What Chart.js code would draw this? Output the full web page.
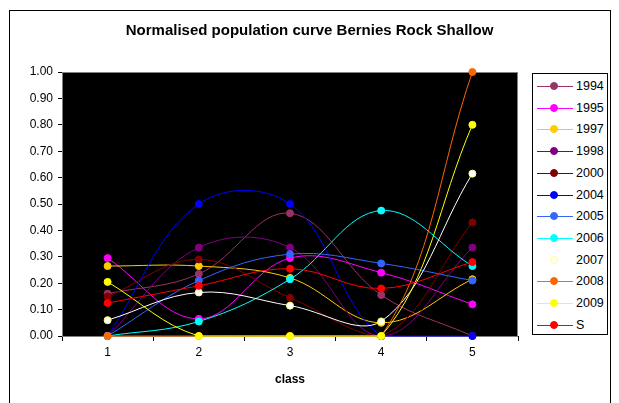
<!DOCTYPE html>
<html>
<head>
<meta charset="utf-8">
<script src="https://cdn.jsdelivr.net/npm/chart.js@4.4.1/dist/chart.umd.min.js"></script>
<style>
  body { margin: 0; background: #fff; font-family: "Liberation Sans", Arial, sans-serif; }
  #wrap { position: relative; width: 619px; height: 403px; }
  #frame { position: absolute; left: 9px; top: 10px; width: 600px; height: 400px;
           border: 1px solid #000; border-bottom: none; pointer-events: none; }
  #legend { position: absolute; left: 532px; top: 73px; width: 74px; height: 260px;
            border: 1px solid #000; background: #fff; }
  .row { position: absolute; left: 0; height: 14px; width: 74px; }
  .row .ln { position: absolute; left: 4px; top: 7px; width: 36px; height: 1px; }
  .row .dot { position: absolute; left: 17px; top: 3px; width: 8px; height: 8px; border-radius: 50%;
              box-sizing: border-box; }
  .row .tx { position: absolute; left: 43px; top: 0; font-size: 12.5px; line-height: 14px; color: #000; }
</style>
</head>
<body>
<div id="wrap">
  <canvas id="myChart" width="619" height="403"></canvas>
  <div id="legend"></div>
  <div id="frame"></div>
</div>
<script>
"use strict";

// データ
const classes = ["1", "2", "3", "4", "5"];
const seriesNames = ["1994", "1995", "1997", "1998", "2000", "2004", "2005", "2006", "2007", "2008", "2009", "S"];

const s1994 = [0.16, 0.235, 0.465, 0.155, 0.00];
const s1995 = [0.295, 0.065, 0.295, 0.24, 0.12];
const s1997 = [0.265, 0.265, 0.22, 0.05, 0.215];
const s1998 = [0.00, 0.335, 0.335, 0.00, 0.335];
const s2000 = [0.15, 0.29, 0.145, 0.00, 0.43];
const s2004 = [0.00, 0.50, 0.50, 0.00, 0.00];
const s2005 = [0.00, 0.21, 0.31, 0.275, 0.21];
const s2006 = [0.00, 0.055, 0.215, 0.475, 0.265];
const s2007 = [0.06, 0.165, 0.115, 0.055, 0.615];
const s2008 = [0.00, 0.00, 0.00, 0.00, 1.00];
const s2009 = [0.205, 0.00, 0.00, 0.00, 0.80];
const sS    = [0.125, 0.19, 0.255, 0.18, 0.28];

const seriesValues = [s1994, s1995, s1997, s1998, s2000, s2004, s2005, s2006, s2007, s2008, s2009, sS];

// 色
const lineColors = ["#993366", "#FF00FF", "#FFCC00", "#800080", "#800000", "#0000FF",
                    "#3366FF", "#00FFFF", "#FFFFFF", "#FF6600", "#FFFF00", "#FF0000"];
const markerColors = ["#993366", "#FF00FF", "#FFCC00", "#800080", "#800000", "#0000FF",
                      "#3366FF", "#00FFFF", "#FFFFFF", "#FF6600", "#FFFF00", "#FF0000"];
const markerEdges = ["#993366", "#FF00FF", "#FFCC00", "#800080", "#800000", "#0000FF",
                     "#3366FF", "#00FFFF", "#FFFF80", "#FF6600", "#FFFF00", "#FF0000"];

const fontFamily = "'Liberation Sans', Arial, sans-serif";

const datasets = seriesNames.map((name, i) => ({
    label: name,
    data: seriesValues[i],
    yAxisID: "y",
    borderColor: lineColors[i],
    backgroundColor: markerColors[i],
    pointBackgroundColor: markerColors[i],
    pointBorderColor: markerEdges[i],
    pointBorderWidth: 1,
    pointRadius: 3.5,
    borderWidth: 1,
    tension: 0.38,
    fill: false,
    clip: false,
    order: seriesNames.length - i // 後の系列を上に描く
}));

// プロットエリアの背景と枠
const plotArea = {
    id: "plotArea",
    beforeDraw(chart) {
        const a = chart.chartArea;
        const ctx = chart.ctx;
        ctx.save();
        ctx.fillStyle = "#000";
        ctx.fillRect(a.left, a.top, a.right - a.left, a.bottom - a.top);
        ctx.restore();
    },
    beforeDatasetsDraw(chart) {
        const a = chart.chartArea;
        const ctx = chart.ctx;
        ctx.save();
        ctx.strokeStyle = "#808080";
        ctx.lineWidth = 1;
        ctx.strokeRect(a.left + 0.5, a.top + 0.5, a.right - a.left - 1, a.bottom - a.top);
        ctx.restore();
    }
};

const ctx = document.getElementById("myChart").getContext("2d");
const myChart = new Chart(ctx, {
    type: "line",
    data: { labels: classes, datasets: datasets },
    plugins: [plotArea],
    options: {
        responsive: false,
        animation: false,
        devicePixelRatio: 1,
        layout: { padding: 0 },
        plugins: {
            legend: { display: false },
            tooltip: { enabled: false },
            title: {
                display: true,
                text: "Normalised population curve Bernies Rock Shallow",
                color: "#000",
                font: { family: fontFamily, size: 15, weight: "bold" },
                padding: { top: 22, bottom: 32 }
            }
        },
        scales: {
            x: {
                offset: true,
                grid: { offset: true, drawOnChartArea: false, color: "#000", tickLength: 5 },
                border: { color: "#000" },
                ticks: { color: "#000", font: { family: fontFamily, size: 12 }, padding: 4 },
                title: {
                    display: true, text: "class", color: "#000",
                    font: { family: fontFamily, size: 12, weight: "bold" },
                    padding: { top: 4, bottom: 16 }
                },
                afterFit(scale) { scale.height = 67; }
            },
            y: {
                min: 0,
                max: 1,
                grid: { drawOnChartArea: false, color: "#000", tickLength: 4 },
                border: { color: "#000" },
                ticks: {
                    stepSize: 0.1,
                    color: "#000",
                    font: { family: fontFamily, size: 12 },
                    padding: 5,
                    callback: (v) => v.toFixed(2)
                },
                afterFit(scale) { scale.width = 62; }
            },
            // 凡例のための右側の空き
            yRight: {
                position: "right",
                min: 0,
                max: 1,
                grid: { display: false },
                border: { display: false },
                ticks: { display: false },
                afterFit(scale) { scale.width = 101; }
            }
        }
    }
});

// 凡例
const legendBox = document.getElementById("legend");
seriesNames.forEach((name, i) => {
    const row = document.createElement("div");
    row.className = "row";
    row.style.top = (5 + i * 21.7) + "px";
    const ln = document.createElement("div");
    ln.className = "ln";
    ln.style.background = lineColors[i];
    const dot = document.createElement("div");
    dot.className = "dot";
    dot.style.background = markerColors[i];
    dot.style.border = "1px solid " + markerEdges[i];
    const tx = document.createElement("div");
    tx.className = "tx";
    tx.textContent = name;
    row.appendChild(ln);
    row.appendChild(dot);
    row.appendChild(tx);
    legendBox.appendChild(row);
});
</script>
</body>
</html>
